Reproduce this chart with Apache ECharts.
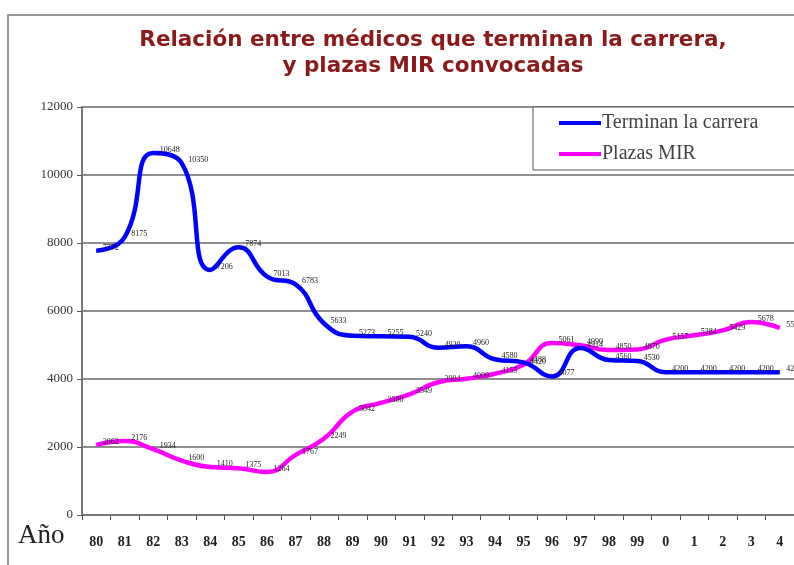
<!DOCTYPE html>
<html>
<head>
<meta charset="utf-8">
<script src="https://cdn.jsdelivr.net/npm/echarts@6/dist/echarts.min.js"></script>
<style>html,body{margin:0;padding:0;background:#fff}#c{width:794px;height:565px}</style>
</head>
<body>
<div id="c"></div>
<script>
var years = ['80','81','82','83','84','85','86','87','88','89','90','91','92','93','94','95','96','97','98','99','0','1','2','3','4'];
var terminan = [7772,8175,10648,10350,7206,7874,7013,6783,5633,5273,5255,5240,4920,4960,4580,4488,4077,4914,4560,4530,4200,4200,4200,4200,4200];
var plazas = [2062,2176,1934,1600,1410,1375,1264,1767,2249,3042,3300,3549,3904,4009,4155,4420,5061,4990,4850,4870,5157,5284,5429,5678,5500];
var yTicks = {min: 0, max: 12000, interval: 2000};

var chart = echarts.init(document.getElementById('c'), null, {renderer: 'canvas'});
var labelStyle = {
  show: true, position: 'right', distance: 6, offset: [0, -3],
  fontSize: 8, fontFamily: 'Liberation Serif', color: '#222'
};
chart.setOption({
  animation: false,
  backgroundColor: '#fff',
  title: {
    text: 'Relación entre médicos que terminan la carrera,\ny plazas MIR convocadas',
    left: 428, top: 22, textAlign: 'center',
    textStyle: {fontFamily: 'DejaVu Sans', fontWeight: 'bold', fontSize: 21.5, lineHeight: 26, color: '#8B1A1A'}
  },
  graphic: [
    {type: 'rect', shape: {x: 8, y: 15, width: 800, height: 560}, style: {fill: 'none', stroke: '#999', lineWidth: 2}, silent: true, z: -1},
    {type: 'text', left: 18, top: 522, style: {text: 'Año', fontFamily: 'Liberation Serif', fontSize: 27, fill: '#222'}}
  ],
  legend: {
    orient: 'vertical', left: 533, top: 107,
    padding: [6, 40, 6, 26],
    backgroundColor: '#fff', borderColor: '#555', borderWidth: 1,
    itemWidth: 42, itemHeight: 4, itemGap: 11, icon: 'rect',
    textStyle: {fontFamily: 'Liberation Serif', fontSize: 20, color: '#444', padding: [0, 0, 0, -4]},
    data: ['Terminan la carrera', 'Plazas MIR']
  },
  grid: {left: 82, right: 0, top: 107, bottom: 50},
  xAxis: {
    type: 'category', data: years, boundaryGap: true,
    axisLine: {lineStyle: {color: '#777', width: 2}},
    axisTick: {show: true, alignWithLabel: false, length: 5, lineStyle: {color: '#555'}},
    axisLabel: {margin: 20, fontFamily: 'Liberation Serif', fontWeight: 'bold', fontSize: 14, color: '#222', interval: 0}
  },
  yAxis: {
    type: 'value', min: yTicks.min, max: yTicks.max, interval: yTicks.interval,
    axisLine: {show: true, lineStyle: {color: '#777', width: 2}},
    axisTick: {show: true, length: 5, lineStyle: {color: '#555'}},
    axisLabel: {margin: 9, fontFamily: 'Liberation Serif', fontSize: 13, color: '#333', formatter: function (v) { return String(v); }},
    splitLine: {lineStyle: {color: '#8f8f8f', width: 2}}
  },
  series: [
    {
      name: 'Terminan la carrera', type: 'line', data: terminan, smooth: 0.5,
      symbol: 'circle', symbolSize: 1,
      lineStyle: {color: '#0000FF', width: 4.5}, itemStyle: {color: '#0000FF'},
      label: labelStyle, z: 3
    },
    {
      name: 'Plazas MIR', type: 'line', data: plazas, smooth: 0.5,
      symbol: 'circle', symbolSize: 1,
      lineStyle: {color: '#FF00FF', width: 4.5}, itemStyle: {color: '#FF00FF'},
      label: labelStyle, z: 2
    }
  ]
});
</script>
</body>
</html>
